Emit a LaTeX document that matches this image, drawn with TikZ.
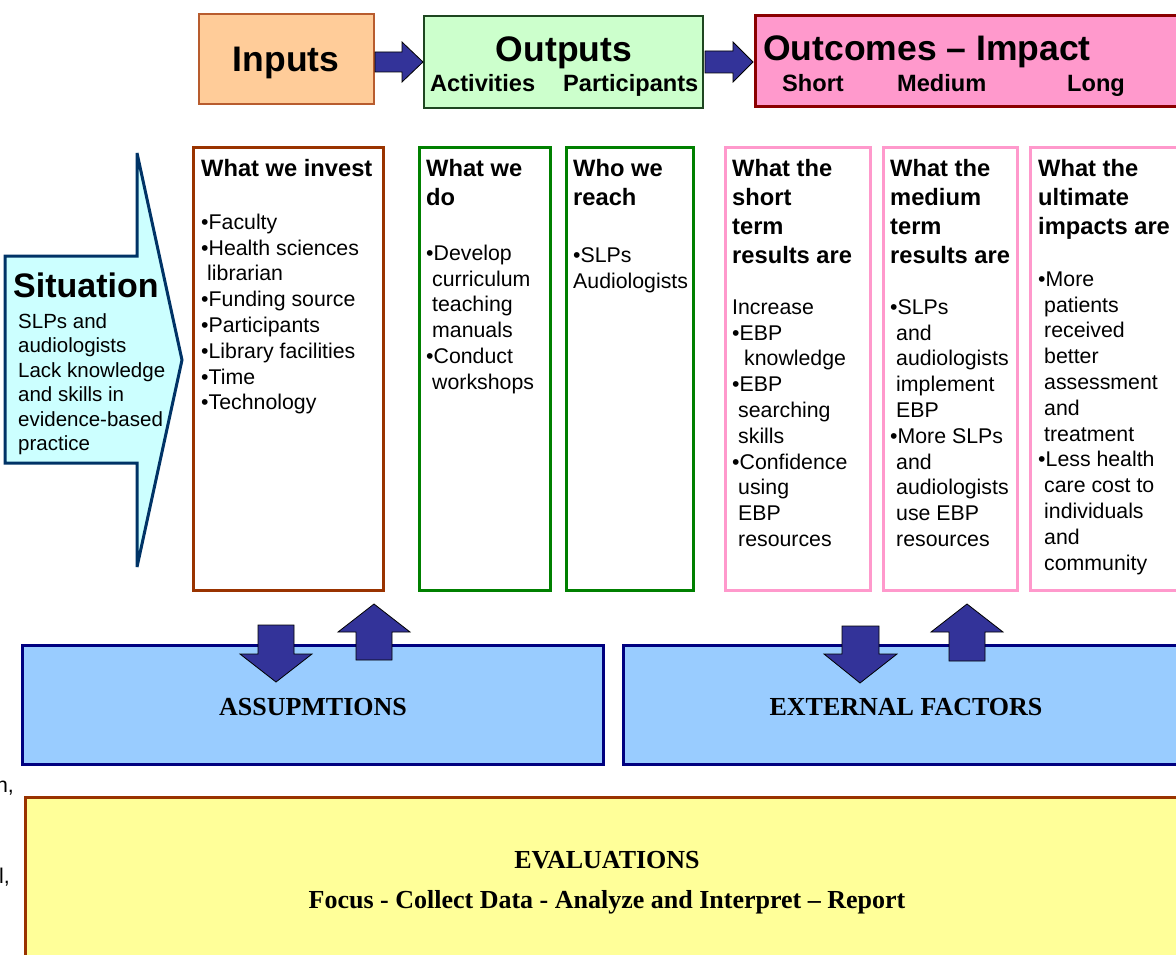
\documentclass[tikz,border=0pt]{standalone}
\usepackage{fontspec}
\setmainfont{Liberation Serif}
\newfontfamily\arial{Liberation Sans}
\definecolor{peach}{HTML}{FFCC99}
\definecolor{inbrd}{HTML}{B85C2E}
\definecolor{lgreen}{HTML}{CCFFCC}
\definecolor{outbrd}{HTML}{1E4620}
\definecolor{pinkf}{HTML}{FF99CC}
\definecolor{outcbrd}{HTML}{8B0000}
\definecolor{arrblue}{HTML}{333399}
\definecolor{sitfill}{HTML}{CCFFFF}
\definecolor{sitbrd}{HTML}{003366}
\definecolor{colbrown}{HTML}{993300}
\definecolor{colgreen}{HTML}{008000}
\definecolor{assfill}{HTML}{99CCFF}
\definecolor{assbrd}{HTML}{000080}
\definecolor{evalfill}{HTML}{FFFF99}
\newcommand{\myind}{\hspace*{6pt}}
\newcommand{\fst}{\rule{0pt}{22pt}}
\tikzset{
  box/.style={draw, inner sep=0pt},
  colbox/.style={box, fill=white, line width=3pt, minimum height=442pt},
  txt/.style={inner sep=0pt, align=left},
  bigtitle/.style={txt, font={\arial\bfseries\fontsize{35.5pt}{40pt}\selectfont}},
  subtitle/.style={txt, font={\arial\bfseries\fontsize{23.6pt}{28pt}\selectfont}},
  head/.style={txt, font={\arial\bfseries\fontsize{23.7pt}{29pt}\selectfont}},
  body/.style={txt, font={\arial\fontsize{21.3pt}{25.8pt}\selectfont}},
  sitbody/.style={txt, font={\arial\fontsize{20.5pt}{24.5pt}\selectfont}},
  serifb/.style={txt, font={\bfseries\fontsize{26pt}{30pt}\selectfont}},
  blockarrow/.style={fill=arrblue, draw=black, line width=0.8pt, line join=miter}
}
\begin{document}
\begin{tikzpicture}[x=1pt,y=-1pt]
\useasboundingbox (0,0) rectangle (1176,955);
\clip (0,0) rectangle (1176,955);

% top row boxes
\node[box, fill=peach, draw=inbrd, line width=1.5pt, minimum width=175pt, minimum height=90pt] (inputs) at (286.5,59) {};
\node[box, fill=lgreen, draw=outbrd, line width=2pt, minimum width=279pt, minimum height=92pt] (outputs) at (563.5,62) {};
\node[box, fill=pinkf, draw=outcbrd, line width=3pt, minimum width=445pt, minimum height=91pt] (outcomes) at (977.5,61.5) {};

\node[bigtitle, anchor=base] (tinputs) at (286,72) {Inputs};
\node[bigtitle, anchor=base] (toutputs) at (564,62) {Outputs};
\node[subtitle, anchor=base west] (tact) at (430,92) {Activities};
\node[subtitle, anchor=base west] (tpart) at (563,92) {Participants};
\node[bigtitle, anchor=base west] (toutc) at (763,61) {Outcomes – Impact};
\node[subtitle, anchor=base west] (tshort) at (782,92) {Short};
\node[subtitle, anchor=base west] (tmed) at (897,92) {Medium};
\node[subtitle, anchor=base west] (tlong) at (1067,92) {Long};

% arrows between top boxes
\draw[blockarrow] (375,52) -- (402,52) -- (402,42) -- (423,62) -- (402,82) -- (402,72) -- (375,72) -- cycle;
\draw[blockarrow] (705,51) -- (733,51) -- (733,42) -- (753,62) -- (733,82) -- (733,73) -- (705,73) -- cycle;

% situation arrow
\draw[fill=sitfill, draw=sitbrd, line width=3pt, line join=miter, miter limit=5]
  (5,256) -- (137,256) -- (137,153) -- (182,360) -- (137,567) -- (137,463) -- (5,463) -- cycle;
\node[bigtitle, font={\arial\bfseries\fontsize{34pt}{40pt}\selectfont}, anchor=base west] (tsit) at (13,297) {Situation};
\node[sitbody, anchor=north west] (sitbody) at (18,306) {\fst SLPs and\\audiologists\\Lack knowledge\\and skills in\\evidence-based\\practice};

% columns
\node[colbox, draw=colbrown, minimum width=190pt] (cinv) at (288,369) {};
\node[colbox, draw=colgreen, minimum width=131pt] (cdo) at (484.5,369) {};
\node[colbox, draw=colgreen, minimum width=127pt] (cwho) at (629.5,369) {};
\node[colbox, draw=pinkf, minimum width=145pt] (cshort) at (797.5,369) {};
\node[colbox, draw=pinkf, minimum width=134pt] (cmed) at (950,369) {};
\node[colbox, draw=pinkf, minimum width=160pt] (clong) at (1110,369) {};

\node[head, anchor=base west] (hinv) at (201,176) {What we invest};
\node[body, anchor=north west] (binv) at (201,207) {\fst •Faculty\\•Health sciences\\\myind librarian\\•Funding source\\•Participants\\•Library facilities\\•Time\\•Technology};

\node[head, anchor=north west] (hdo) at (426,154) {\fst What we\\do};
\node[body, anchor=north west] (bdo) at (426,238) {\fst •Develop\\\myind curriculum\\\myind teaching\\\myind manuals\\•Conduct\\\myind workshops};

\node[head, anchor=north west] (hwho) at (573,154) {\fst Who we\\reach};
\node[body, anchor=north west] (bwho) at (573,240) {\fst •SLPs\\Audiologists};

\node[head, anchor=north west] (hshort) at (732,154) {\fst What the\\short\\term\\results are};
\node[body, anchor=north west] (bshort) at (732,292) {\fst Increase\\•EBP\\\hspace*{12pt}knowledge\\•EBP\\\myind searching\\\myind skills\\•Confidence\\\myind using\\\myind EBP\\\myind resources};

\node[head, anchor=north west] (hmed) at (890,154) {\fst What the\\medium\\term\\results are};
\node[body, anchor=north west] (bmed) at (890,292) {\fst •SLPs\\\myind and\\\myind audiologists\\\myind implement\\\myind EBP\\•More SLPs\\\myind and\\\myind audiologists\\\myind use EBP\\\myind resources};

\node[head, anchor=north west] (hlong) at (1038,154) {\fst What the\\ultimate\\impacts are};
\node[body, anchor=north west] (blong) at (1038,264) {\fst •More\\\myind patients\\\myind received\\\myind better\\\myind assessment\\\myind and\\\myind treatment\\•Less health\\\myind care cost to\\\myind individuals\\\myind and\\\myind community};

% assumptions / external factors
\node[box, fill=assfill, draw=assbrd, line width=3pt, minimum width=581pt, minimum height=119pt] (assump) at (312.5,704.5) {};
\node[box, fill=assfill, draw=assbrd, line width=3pt, minimum width=587pt, minimum height=119pt] (extf) at (916.5,704.5) {};
\node[serifb, anchor=base] (tassump) at (313,715) {ASSUPMTIONS};
\node[serifb, anchor=base] (textf) at (906,715) {EXTERNAL FACTORS};

\draw[blockarrow] (258,625) -- (294,625) -- (294,654) -- (312,654) -- (276,682) -- (240,654) -- (258,654) -- cycle;
\draw[blockarrow] (374,604) -- (410,632) -- (392,632) -- (392,660) -- (356,660) -- (356,632) -- (338,632) -- cycle;
\draw[blockarrow] (842,626) -- (879,626) -- (879,654) -- (897,654) -- (860,683) -- (824,654) -- (842,654) -- cycle;
\draw[blockarrow] (967,604) -- (1003,632) -- (985,632) -- (985,661) -- (949,661) -- (949,632) -- (931,632) -- cycle;

% evaluations
\node[box, fill=evalfill, draw=colbrown, line width=3pt, minimum width=1185pt, minimum height=183pt] (evalbox) at (617.5,888.5) {};
\node[serifb, anchor=base] (teval) at (607,868) {EVALUATIONS};
\node[serifb, anchor=base] (tfocus) at (607,908) {Focus - Collect Data - Analyze and Interpret – Report};

% clipped fragments at left edge
\node[body, anchor=base east] (frag1) at (14,792) {n,};
\node[body, anchor=base east] (frag2) at (10,883) {l,};
\end{tikzpicture}
\end{document}
